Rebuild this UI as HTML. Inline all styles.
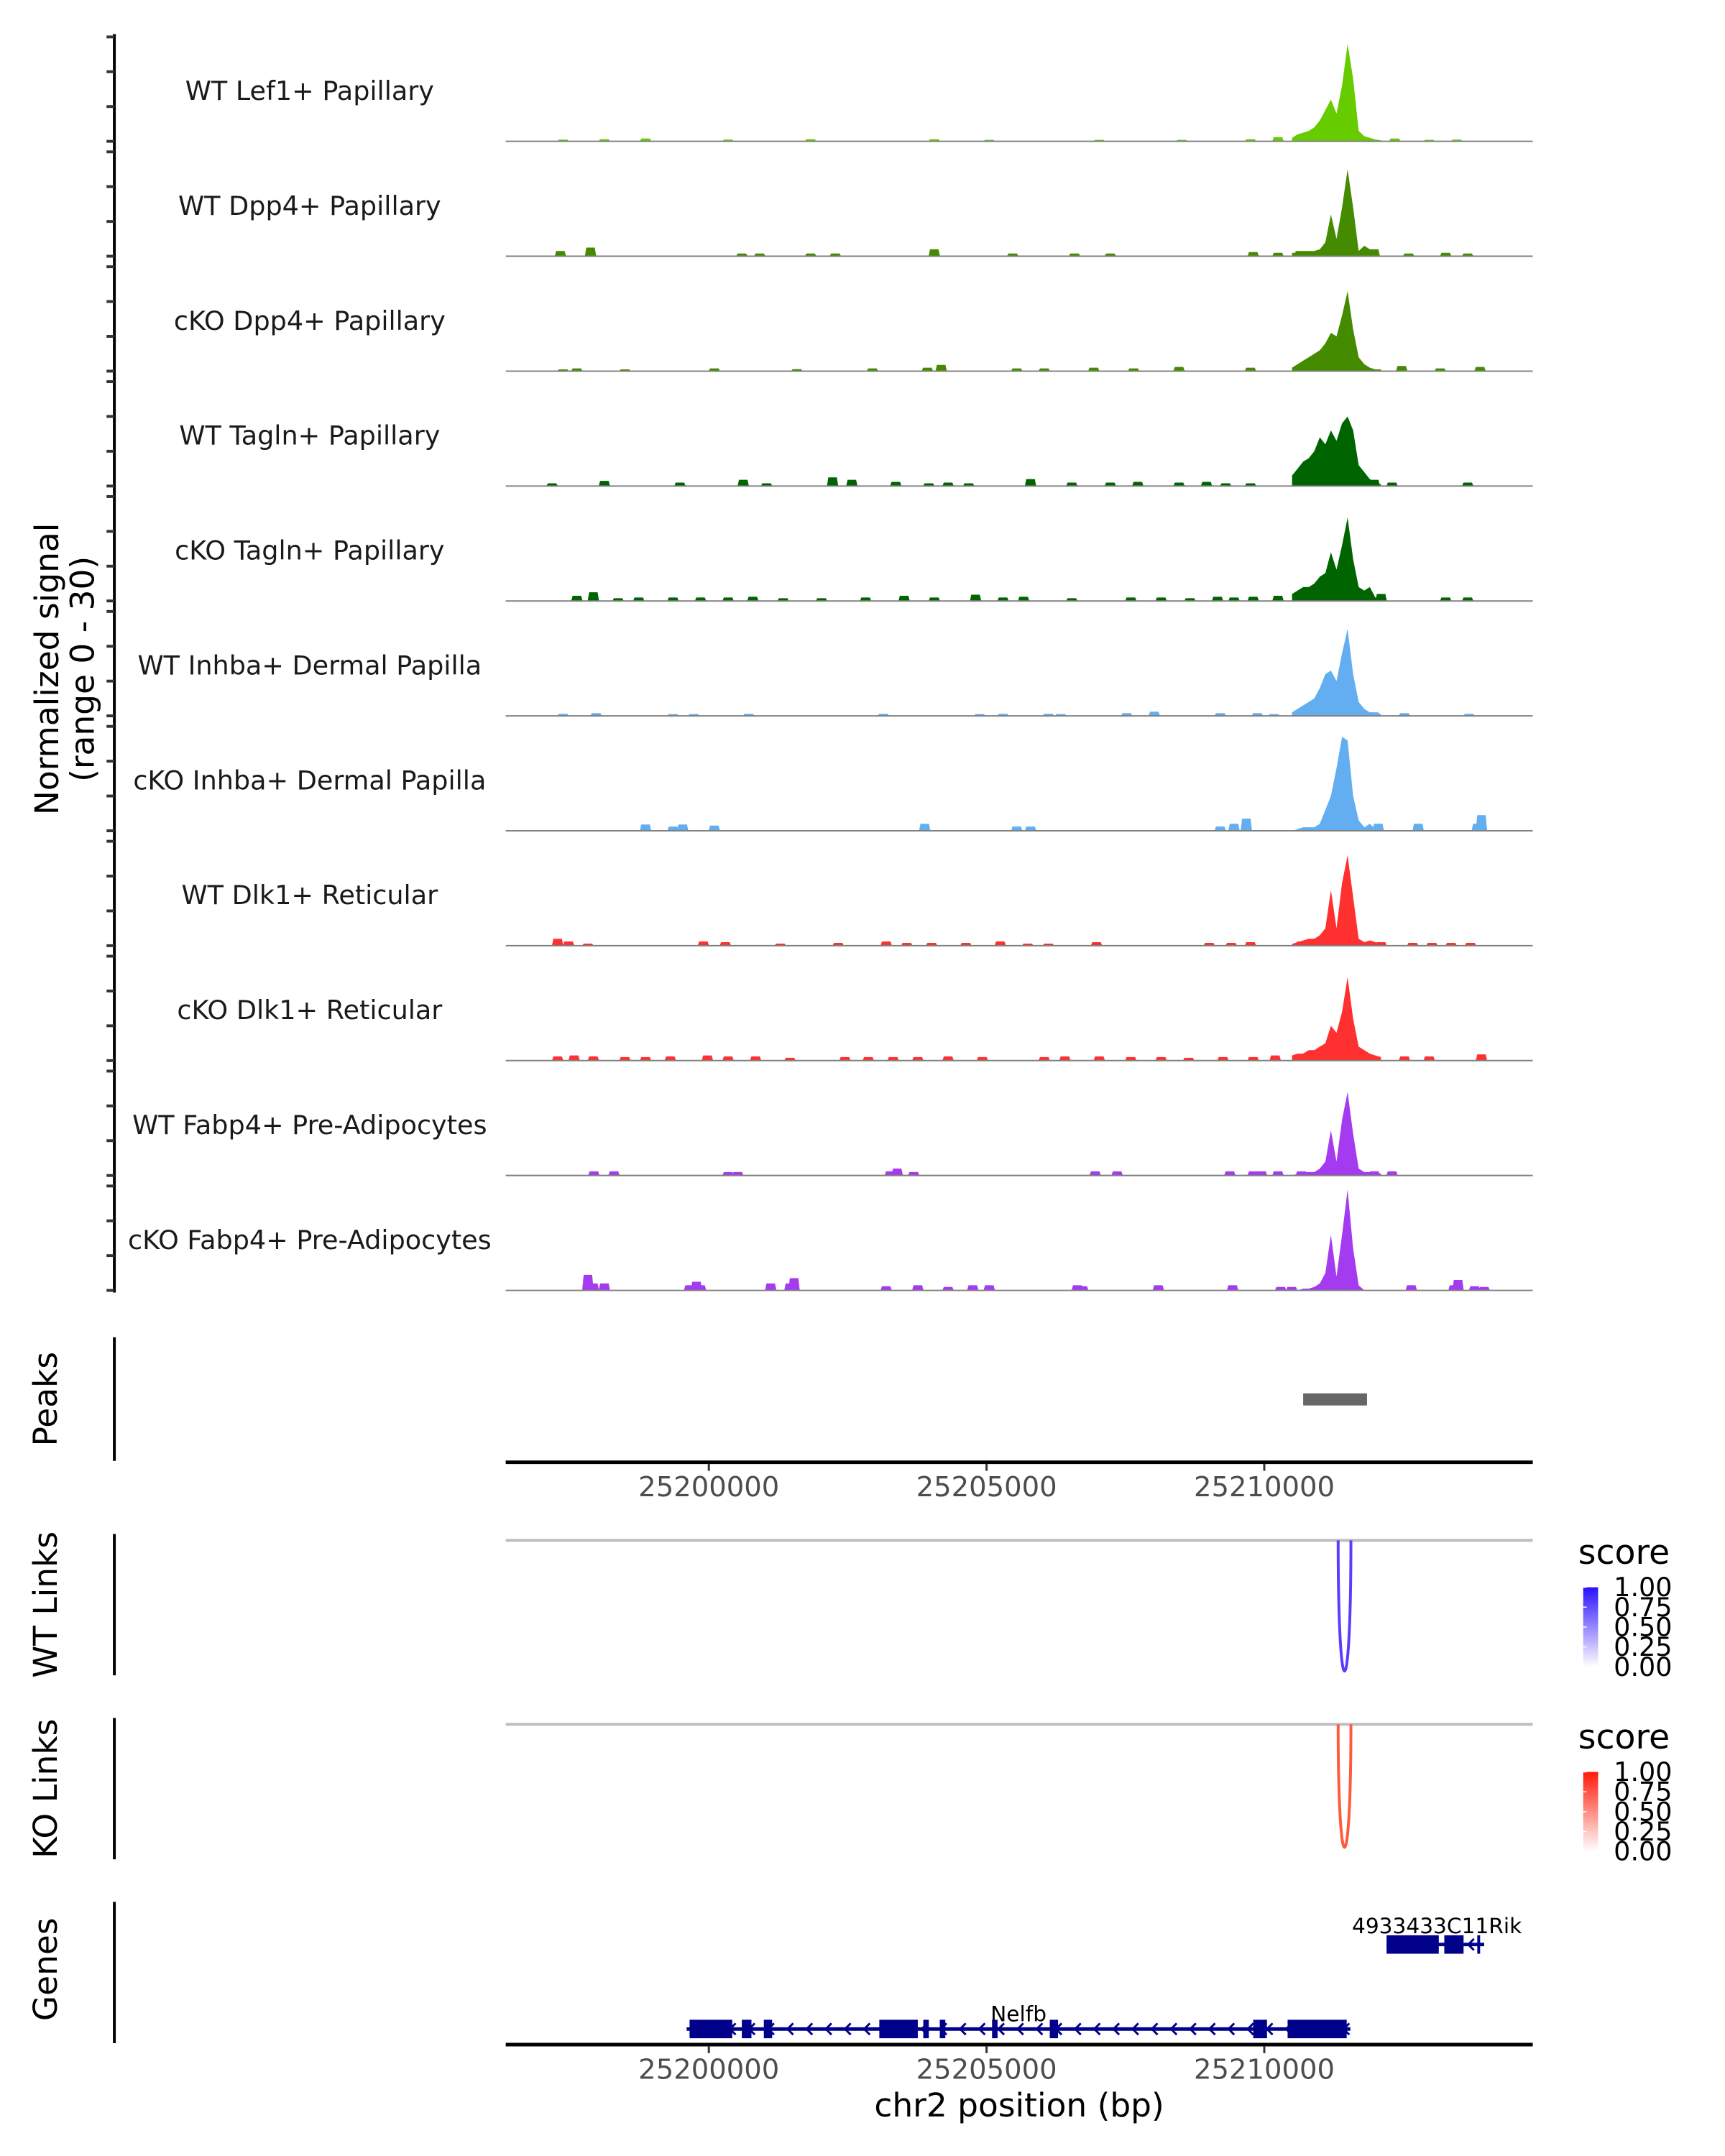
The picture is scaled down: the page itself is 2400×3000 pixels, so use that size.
<!DOCTYPE html>
<html><head><meta charset="utf-8"><style>
html,body{margin:0;padding:0;background:#fff;}
svg{display:block;font-family:"DejaVu Sans","Liberation Sans",sans-serif;}
</style></head><body>
<svg id="chart" xmlns="http://www.w3.org/2000/svg" width="2400" height="3000" viewBox="0 0 2400 3000">
<defs>
<linearGradient id="gradBlue" x1="0" y1="1" x2="0" y2="0"><stop offset="0" stop-color="#ffffff"/><stop offset="1" stop-color="#2a10ff"/></linearGradient>
<linearGradient id="gradRed" x1="0" y1="1" x2="0" y2="0"><stop offset="0" stop-color="#ffffff"/><stop offset="1" stop-color="#ff1a0a"/></linearGradient>
</defs>
<g transform="scale(0.9882)">
<g id="tracks"></g>
<text transform="translate(82,942) rotate(-90)" text-anchor="middle" font-size="46" fill="#000">Normalized signal</text>
<text transform="translate(132,942) rotate(-90)" text-anchor="middle" font-size="46" fill="#000">(range 0 - 30)</text>
<g id="peaks"></g>
<g id="links"></g>
<g id="genes"></g>
</g>
</svg>
<script>
// ---- data ----
const trackNames = ["WT Lef1+ Papillary","WT Dpp4+ Papillary","cKO Dpp4+ Papillary","WT Tagln+ Papillary","cKO Tagln+ Papillary","WT Inhba+ Dermal Papilla","cKO Inhba+ Dermal Papilla","WT Dlk1+ Reticular","cKO Dlk1+ Reticular","WT Fabp4+ Pre-Adipocytes","cKO Fabp4+ Pre-Adipocytes"];
const trackColors = ["#66cc00","#458b00","#458b00","#006400","#006400","#63aef0","#63aef0","#ff3030","#ff3030","#a53bf0","#a53bf0"];
const peakPositions = [25210500,25210600,25210700,25210800,25210900,25211000,25211100,25211200,25211300,25211400,25211500,25211600,25211700,25211800,25211900,25212000,25212100];
const peakLef1 = [1,2,2.5,3,4,6,9,12,8,16,28,18,3,1.5,1,0.5,0.3];
const peakDpp4WT = [1,1,1.5,1.5,1.5,2,4,12,5,14,25,14,1.5,3,2,0.5,0];
const peakDpp4KO = [1,2,3,4,5,6,8,11,10,16,23,12,4,2,1,0.5,0.5];
const peakTaglnWT = [3,5,7,8,10,14,12,16,13,18,20,16,6,4,2,1,0.5];
const peakTaglnKO = [2,3,4,4,5,7,8,14,9,16,24,12,4,3,4,1,0.5];
const peakInhbaWT = [1,2,3,4,5,8,12,13,10,18,25,12,4,2,1,1,0.5];
const peakInhbaKO = [0,0.5,1,1,1,2,6,10,18,27,26,10,3,1,2,0.5,0];
const peakDlk1WT = [0.5,1,1.5,2,2,3,5,16,5,18,26,14,2,1,1.5,1,0.5];
const peakDlk1KO = [1.5,2,2,3,3,4,5,10,8,14,24,12,4,3,2,1.5,1];
const peakFabp4WT = [0,0.5,1,1,1,2,4,13,4,16,24,12,2,1,1,1,0.5];
const peakFabp4KO = [0,0,0.5,0.5,1,2,5,16,4,16,29,12,1.5,0,0,0,0];
// small signal blips: [position bp, value]
const blipsLef1 = [[25197376,0.5],[25198119,0.6],[25198862,0.8],[25200347,0.5],[25201832,0.6],[25204059,0.6],[25205049,0.4],[25207029,0.4],[25208514,0.4],[25209752,0.6],[25210247,1.2],[25212350,0.8],[25212969,0.4],[25213464,0.5]];
const blipsDpp4WT = [[25197327,1.5],[25197870,2.5],[25200594,0.8],[25200916,0.8],[25201832,0.8],[25202277,0.8],[25204059,2],[25205470,0.8],[25206584,0.8],[25207227,0.8],[25209801,1.2],[25210247,1],[25210643,1.5],[25211979,2],[25212598,0.8],[25213266,1],[25213662,0.8]];
const blipsDpp4KO = [[25197376,0.5],[25197624,0.8],[25198490,0.5],[25200099,0.8],[25201584,0.6],[25202945,0.8],[25203935,1],[25204183,1.8],[25205544,0.8],[25206039,0.8],[25206930,1],[25207648,0.8],[25208465,1.2],[25209752,1],[25212474,1.5],[25213167,0.8],[25213885,1.2]];
const blipsTaglnWT = [[25197178,0.8],[25198119,1.5],[25199480,1],[25200619,1.8],[25201040,0.8],[25202228,2.5],[25202574,1.8],[25203366,1.2],[25203960,0.8],[25204307,1],[25204678,0.8],[25205792,2],[25206534,1],[25207227,1],[25207722,1.2],[25208465,1],[25208960,1.2],[25209306,0.8],[25209752,0.8],[25211979,1.8],[25212301,1],[25213662,1]];
const blipsTaglnKO = [[25197624,1.5],[25197921,2.5],[25198366,0.8],[25198738,1],[25199356,1],[25199851,1],[25200347,1],[25200792,1.2],[25201337,0.8],[25202030,0.8],[25202822,1],[25203515,1.5],[25204059,1],[25204802,1.8],[25205297,1],[25205668,1.2],[25206534,0.8],[25207598,1],[25208143,1],[25208663,0.8],[25209158,1.2],[25209455,1],[25209801,1.2],[25210247,1.5],[25212103,2],[25213266,1],[25213662,1]];
const blipsInhbaWT = [[25197376,0.6],[25197970,0.8],[25199356,0.5],[25199728,0.5],[25200718,0.6],[25203143,0.6],[25204876,0.5],[25205297,0.6],[25206113,0.6],[25206336,0.5],[25207524,0.8],[25208019,1.2],[25209207,0.8],[25209875,0.8],[25210172,0.5],[25211979,1],[25212524,0.8],[25213687,0.6]];
const blipsInhbaKO = [[25198861,1.8],[25199356,1.2],[25199530,1.8],[25200099,1.5],[25203886,2],[25205544,1.2],[25205792,1.2],[25209207,1.2],[25209455,2],[25209677,3.5],[25212053,2],[25212771,2],[25213835,2],[25213910,4.5]];
const blipsDlk1WT = [[25197278,2],[25197475,1.2],[25197822,0.6],[25199901,1.2],[25200297,1],[25201287,0.6],[25202327,0.8],[25203193,1.2],[25203564,0.8],[25204010,0.8],[25204628,0.8],[25205247,1.2],[25205742,0.6],[25206113,0.6],[25206980,1],[25209009,0.8],[25209405,0.8],[25209752,1],[25210667,1.2],[25212103,1],[25212672,0.8],[25213019,0.8],[25213365,0.8],[25213712,0.8]];
const blipsDlk1KO = [[25197278,1.2],[25197574,1.5],[25197921,1.2],[25198490,1],[25198861,1],[25199307,1.2],[25199975,1.5],[25200347,1.2],[25200842,1.2],[25201460,0.8],[25202450,1],[25202871,1],[25203317,1],[25203762,1],[25204307,1.2],[25204925,1],[25206039,1],[25206410,1.2],[25207029,1.2],[25207598,1],[25208143,1],[25208638,0.8],[25209257,1],[25209801,1],[25210197,1.5],[25212524,1.2],[25212969,1.2],[25213910,1.8]];
const blipsFabp4WT = [[25197930,1.2],[25198292,1.2],[25200347,1],[25200520,1],[25203267,1.2],[25203391,2],[25203688,1],[25206955,1.2],[25207351,1.2],[25209380,1.2],[25209801,1.2],[25209950,1.2],[25210247,1.2],[25210667,1.2],[25211979,1.2],[25212301,1.2]];
const blipsFabp4KO = [[25197822,4.5],[25197921,2],[25198119,2],[25199653,1.5],[25199777,2.5],[25199851,1.5],[25201114,2],[25201460,2],[25201535,3.5],[25203193,1.2],[25203762,1.5],[25204307,1],[25204752,1.5],[25205049,1.5],[25206633,1.5],[25206732,1.2],[25208093,1.5],[25209430,1.5],[25210296,1],[25210494,1],[25212647,1.5],[25213415,1.5],[25213489,3],[25213786,1.2],[25213959,1]];
const peakSeries = [peakLef1,peakDpp4WT,peakDpp4KO,peakTaglnWT,peakTaglnKO,peakInhbaWT,peakInhbaKO,peakDlk1WT,peakDlk1KO,peakFabp4WT,peakFabp4KO];
const blipSeries = [blipsLef1,blipsDpp4WT,blipsDpp4KO,blipsTaglnWT,blipsTaglnKO,blipsInhbaWT,blipsInhbaKO,blipsDlk1WT,blipsDlk1KO,blipsFabp4WT,blipsFabp4KO];
const yTicks = [0,10,20,30];
const xTicks = [25200000,25205000,25210000];
const peakRegions = [[25210700,25211850]];
const linkWT = [[25211330,25211560,0.85]];
const linkKO = [[25211330,25211560,0.8]];
const legendTicks = ["1.00","0.75","0.50","0.25","0.00"];
const nelfbExons = [[25199653,25200421],[25200594,25200767],[25200990,25201139],[25203069,25203762],[25203861,25203960],[25204158,25204257],[25205099,25205198],[25206138,25206287],[25209801,25210049],[25210420,25211484]];
const nelfbSpan = [25199600,25211550];
const rikExons = [[25212202,25213142],[25213241,25213588],[25213835,25213885]];
const rikSpan = [25212202,25213959];

// ---- scales ----
const NS="http://www.w3.org/2000/svg";
const X0=712, X1=2158;
function xs(bp){ return 998 + (bp-25200000)*(391/5000); }
const trackBase0=199, trackStep=161.8, trackH=147;
function ys(i,v){ return trackBase0 + i*trackStep - v/30*trackH; }
function mk(tag,attrs,parent){ const e=document.createElementNS(NS,tag); for(const k in attrs) e.setAttribute(k,attrs[k]); parent.appendChild(e); return e; }

const gT=document.getElementById('tracks');
let ax=mk('line',{x1:161,y1:48,x2:161,y2:1820,stroke:'#000','stroke-width':4},gT);



trackNames.forEach((name,i)=>{
  const base=trackBase0+i*trackStep;
  const g=mk('g',{},gT);
  
  
  yTicks.forEach(t=>{
    const tk=mk('line',{x1:150,x2:161,y1:ys(i,t),y2:ys(i,t),stroke:'#333','stroke-width':4},g);
    
    
  });
  const lb=mk('text',{x:436,y:base-71,'text-anchor':'middle','dominant-baseline':'central','font-size':37,fill:'#1a1a1a'},g);
  lb.textContent=name;
  
  
  const vals=peakSeries[i];
  let d='M'+xs(peakPositions[0]).toFixed(1)+','+base;
  peakPositions.forEach((p,k)=>{ d+=' L'+xs(p).toFixed(1)+','+ys(i,vals[k]).toFixed(1); });
  d+=' L'+xs(peakPositions[peakPositions.length-1]).toFixed(1)+','+base+' Z';
  const pk=mk('path',{d:d,fill:trackColors[i]},g);
  
  
  blipSeries[i].forEach(b=>{
    const cx=xs(b[0]), y=ys(i,b[1]);
    const dd=`M${(cx-8).toFixed(1)},${base} L${(cx-6).toFixed(1)},${y.toFixed(1)} L${(cx+6).toFixed(1)},${y.toFixed(1)} L${(cx+8).toFixed(1)},${base} Z`;
    const bp=mk('path',{d:dd,fill:trackColors[i]},g);
    
    
  });
  const bl=mk('line',{x1:X0,x2:X1,y1:base,y2:base,stroke:'#808080','stroke-width':2},g);
  
  
});

// peaks track
const gP=document.getElementById('peaks');
let pa=mk('line',{x1:161,y1:1883,x2:161,y2:2057,stroke:'#000','stroke-width':4},gP);


let pl=mk('text',{transform:'translate(80,1970) rotate(-90)','text-anchor':'middle','font-size':46,fill:'#000'},gP);
pl.textContent='Peaks';


peakRegions.forEach(r=>{
  const rc=mk('rect',{x:xs(r[0]),y:1962,width:xs(r[1])-xs(r[0]),height:17,fill:'#666'},gP);
  
  
});
function xAxis(parent,y,name){
  const l=mk('line',{x1:X0,x2:X1,y1:y,y2:y,stroke:'#000','stroke-width':5},parent);
  
  
  xTicks.forEach(t=>{
    const tk=mk('line',{x1:xs(t),x2:xs(t),y1:y+2,y2:y+12,stroke:'#333','stroke-width':3},parent);
    
    
    const tl=mk('text',{x:xs(t),y:y+48,'text-anchor':'middle','font-size':39,fill:'#4d4d4d'},parent);
    tl.textContent=String(t);
    
    
  });
}
xAxis(gP,2059,'peaks-x-axis');

// links
const gL=document.getElementById('links');
function linkTrack(top,bottom,label,links,color,grad,legTop,name){
  const g=mk('g',{},gL);
  
  
  const a=mk('line',{x1:161,y1:top,x2:161,y2:bottom,stroke:'#000','stroke-width':4},g);
  
  
  const t=mk('text',{transform:`translate(80,${(top+bottom)/2}) rotate(-90)`,'text-anchor':'middle','font-size':46,fill:'#000'},g);
  t.textContent=label;
  
  
  const y0=top+9;
  const gl=mk('line',{x1:X0,x2:X1,y1:y0,y2:y0,stroke:'#bebebe','stroke-width':4},g);
  
  
  links.forEach(k=>{
    const x1=xs(k[0]), x2=xs(k[1]);
    const depth=(bottom-6-y0)*k[2]/0.85;
    const c=y0+depth/0.75;
    const p=mk('path',{d:`M${x1},${y0} C${x1},${c} ${x2},${c} ${x2},${y0}`,fill:'none',stroke:color,'stroke-width':4},g);
    
    
  });
  const st=mk('text',{x:2222,y:legTop+12,'font-size':48,fill:'#000'},g);
  st.textContent='score';
  
  
  const bt=legTop+45, bh=112;
  const bar=mk('rect',{x:2229,y:bt,width:21,height:bh,fill:`url(#${grad})`},g);
  
  
  legendTicks.forEach((lab,j)=>{
    const yy=bt+j*bh/4;
    const tk=mk('line',{x1:2229,x2:2234,y1:yy,y2:yy,stroke:'#fff','stroke-width':1.5},g);
    
    
    const tl=mk('text',{x:2272,y:yy,'dominant-baseline':'central','font-size':37,fill:'#000'},g);
    tl.textContent=lab;
    
    
  });
}
linkTrack(2160,2359,'WT Links',linkWT,'#5a3cff','gradBlue',2190,'wt-links-track');
linkTrack(2419,2618,'KO Links',linkKO,'#ff5a3a','gradRed',2450,'ko-links-track');

// genes
const gG=document.getElementById('genes');
let ga=mk('line',{x1:161,y1:2678,x2:161,y2:2877,stroke:'#000','stroke-width':4},gG);


let gl=mk('text',{transform:'translate(80,2773) rotate(-90)','text-anchor':'middle','font-size':46,fill:'#000'},gG);
gl.textContent='Genes';


function gene(name,span,exons,yc,h,labelX,labelY){
  const g=mk('g',{},gG);
  
  
  const ln=mk('line',{x1:xs(span[0]),x2:xs(span[1]),y1:yc,y2:yc,stroke:'#00008b','stroke-width':5},g);
  
  
  for(let x=xs(span[0])+10;x<xs(span[1])-4;x+=27){
    const c=mk('polyline',{points:`${x+5},${yc-8} ${x-3},${yc} ${x+5},${yc+8}`,fill:'none',stroke:'#00008b','stroke-width':3},g);
    
    
  }
  exons.forEach(e=>{
    const r=mk('rect',{x:xs(e[0]),y:yc-h/2,width:Math.max(4,xs(e[1])-xs(e[0])),height:h,fill:'#00008b'},g);
    
    
  });
  const t=mk('text',{x:labelX,y:labelY,'text-anchor':'middle','font-size':30,fill:'#000'},g);
  t.textContent=name;
  
  
}
gene('Nelfb',nelfbSpan,nelfbExons,2857,26,1434,2846);
gene('4933433C11Rik',rikSpan,rikExons,2738,26,2023,2722);
xAxis(gG,2879,'genes-x-axis');
let xt=mk('text',{x:1435,y:2980,'text-anchor':'middle','font-size':46,fill:'#000'},gG);
xt.textContent='chr2 position (bp)';


</script>
</body></html>
